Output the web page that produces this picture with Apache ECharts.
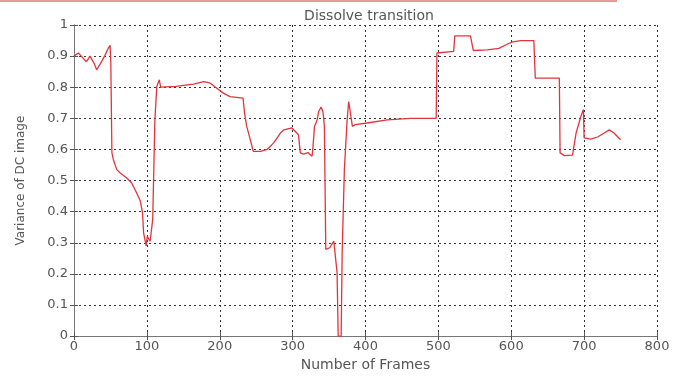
<!DOCTYPE html>
<html>
<head>
<meta charset="utf-8">
<script src="https://cdn.jsdelivr.net/npm/echarts@6/dist/echarts.min.js"></script>
<style>
html,body{margin:0;padding:0;background:#fff;}
#c{width:685px;height:377px;}
</style>
</head>
<body>
<div id="c"></div>
<script>
const titleText = 'Dissolve transition';
const xName = 'Number of Frames';
const yName = 'Variance of DC image';
const xTicks = [0, 100, 200, 300, 400, 500, 600, 700, 800];
const yTicks = [0, 0.1, 0.2, 0.3, 0.4, 0.5, 0.6, 0.7, 0.8, 0.9, 1];

const frames = [0, 6, 10, 17, 22, 28, 31, 36, 42, 47, 49.5, 50.5, 52, 54, 58.7, 63, 72, 79, 86, 91, 94, 95.5, 99, 100.5, 104.5, 107, 108, 111, 113.6, 117, 119, 140, 164, 178, 187, 196, 205, 214, 232, 234, 237, 242, 246, 256, 265, 274, 283, 288, 299, 308, 310.6, 315, 321, 326.7, 328, 330, 333.6, 335.8, 339, 341.6, 343.6, 345.5, 351, 356.5, 359, 361, 362.5, 366.6, 368, 371, 374.8, 377, 379, 382, 386, 402, 430, 462, 497, 498, 521, 522.5, 544, 548, 567, 583, 595, 602, 613, 631, 633, 666, 667, 673, 684, 689, 695.5, 699, 700, 709, 718.5, 727.6, 734.5, 741, 750];
const variance = [0.90, 0.91, 0.90, 0.882, 0.90, 0.875, 0.856, 0.875, 0.90, 0.925, 0.935, 0.88, 0.59, 0.567, 0.535, 0.525, 0.509, 0.493, 0.46, 0.434, 0.396, 0.332, 0.29, 0.32, 0.305, 0.30, 0.375, 0.695, 0.802, 0.824, 0.80, 0.803, 0.81, 0.818, 0.813, 0.797, 0.781, 0.770, 0.765, 0.717, 0.674, 0.631, 0.594, 0.594, 0.60, 0.621, 0.652, 0.663, 0.669, 0.647, 0.589, 0.585, 0.59, 0.578, 0.61, 0.674, 0.695, 0.722, 0.736, 0.722, 0.674, 0.279, 0.284, 0.305, 0.30, 0.204, 0.0, 0.0, 0.27, 0.535, 0.695, 0.754, 0.75, 0.674, 0.68, 0.685, 0.695, 0.70, 0.70, 0.91, 0.915, 0.965, 0.965, 0.918, 0.92, 0.925, 0.939, 0.946, 0.95, 0.95, 0.829, 0.829, 0.589, 0.58, 0.582, 0.653, 0.706, 0.728, 0.637, 0.633, 0.64, 0.653, 0.663, 0.653, 0.631];

const seriesData = frames.map((f, i) => [f, variance[i]]);
const FONT = 'DejaVu Sans';
const txtColor = '#555';
const gridLine = {show: true, lineStyle: {color: '#333', type: [2, 3], width: 1}};
const axisLine = {show: true, lineStyle: {color: '#777', width: 1}};
const tick = {show: true, inside: true, length: 4, lineStyle: {color: '#555'}};

const chart = echarts.init(document.getElementById('c'), null, {renderer: 'canvas'});
chart.setOption({
  animation: false,
  backgroundColor: '#fff',
  title: {
    text: titleText, left: 364, top: 4, textAlign: 'center',
    textStyle: {fontFamily: FONT, fontSize: 14, fontWeight: 'normal', color: '#555'}
  },
  graphic: [{type: 'rect', left: 0, top: 0, shape: {width: 617, height: 2}, style: {fill: '#e69a9a'}}],
  grid: {left: 74, right: 28, top: 25, bottom: 40},
  xAxis: [{
    type: 'value', min: xTicks[0], max: xTicks[xTicks.length - 1], interval: 100,
    name: xName, nameLocation: 'middle', nameGap: 19,
    nameTextStyle: {fontFamily: FONT, fontSize: 14, color: txtColor},
    axisLine: axisLine, axisTick: tick, splitLine: gridLine,
    axisLabel: {fontFamily: FONT, fontSize: 13, color: txtColor, margin: 4}
  }, {
    type: 'value', position: 'top', min: 0, max: 800, interval: 100,
    axisLine: axisLine, axisTick: tick, splitLine: {show: false}, axisLabel: {show: false}
  }],
  yAxis: [{
    type: 'value', min: yTicks[0], max: yTicks[yTicks.length - 1], interval: 0.1,
    name: yName, nameLocation: 'middle', nameGap: 47,
    nameTextStyle: {fontFamily: FONT, fontSize: 12, color: txtColor},
    axisLine: axisLine, axisTick: tick, splitLine: gridLine,
    axisLabel: {fontFamily: FONT, fontSize: 13, color: txtColor, margin: 6,
      formatter: v => String(+v.toFixed(1))}
  }, {
    type: 'value', position: 'right', min: 0, max: 1, interval: 0.1,
    axisLine: axisLine, axisTick: tick, splitLine: {show: false}, axisLabel: {show: false}
  }],
  series: [{
    type: 'line', data: seriesData, showSymbol: false, symbol: 'none',
    lineStyle: {color: '#e3343c', width: 1.3}, clip: false
  }]
});
</script>
</body>
</html>
